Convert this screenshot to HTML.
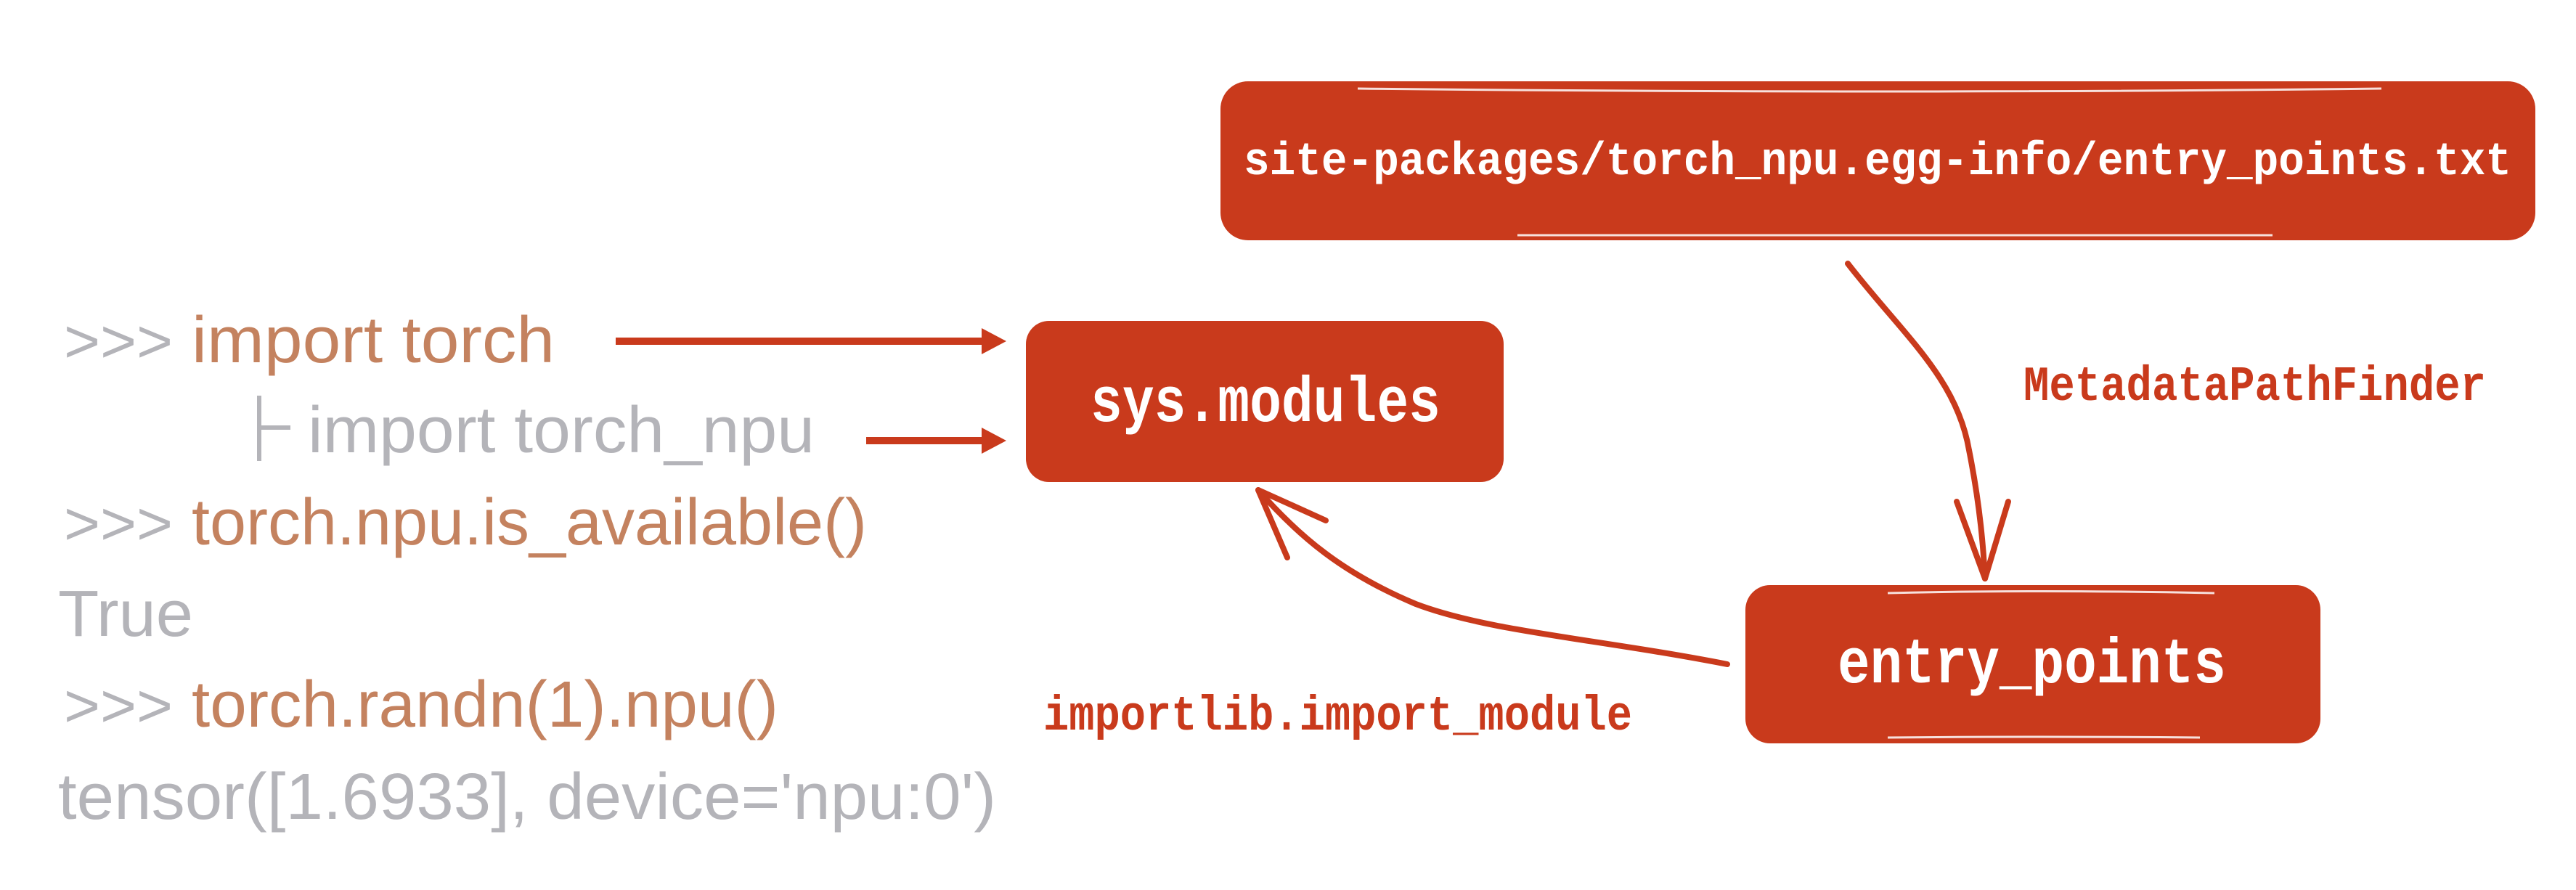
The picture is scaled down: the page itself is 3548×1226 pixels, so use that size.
<!DOCTYPE html>
<html><head><meta charset="utf-8"><style>
html,body{margin:0;padding:0;background:#fff;}
svg{display:block;}
.p{fill:#b4b4b9;font-family:"Liberation Sans",sans-serif;}
.o{fill:#c4825f;font-family:"Liberation Sans",sans-serif;}
.m{font-family:"Liberation Mono",monospace;font-weight:bold;}
</style></head><body>
<svg width="3548" height="1226" viewBox="0 0 3548 1226" xmlns="http://www.w3.org/2000/svg">
<rect width="3548" height="1226" fill="#fff"/>
<g font-size="90">
<text class="p" x="88" y="499" textLength="150" lengthAdjust="spacingAndGlyphs" font-size="84">&gt;&gt;&gt;</text>
<text class="o" x="264" y="499" textLength="500" lengthAdjust="spacingAndGlyphs">import torch</text>
<rect x="354" y="545" width="6" height="90" fill="#b4b4b9"/>
<rect x="354" y="586" width="46" height="6" fill="#b4b4b9"/>
<text class="p" x="424" y="623" textLength="698" lengthAdjust="spacingAndGlyphs">import torch_npu</text>
<text class="p" x="88" y="750" textLength="150" lengthAdjust="spacingAndGlyphs" font-size="84">&gt;&gt;&gt;</text>
<text class="o" x="264" y="750" textLength="930" lengthAdjust="spacingAndGlyphs">torch.npu.is_available()</text>
<text class="p" x="80" y="876" textLength="186" lengthAdjust="spacingAndGlyphs">True</text>
<text class="p" x="88" y="1001" textLength="150" lengthAdjust="spacingAndGlyphs" font-size="84">&gt;&gt;&gt;</text>
<text class="o" x="264" y="1001" textLength="808" lengthAdjust="spacingAndGlyphs">torch.randn(1).npu()</text>
<text class="p" x="80" y="1128" textLength="1292" lengthAdjust="spacingAndGlyphs">tensor([1.6933], device='npu:0')</text>
</g>
<g fill="#c93a1c">
<rect x="848" y="465" width="510" height="10"/>
<polygon points="1352,452 1386,470 1352,488"/>
<rect x="1193" y="602" width="165" height="10"/>
<polygon points="1352,589 1386,607 1352,625"/>
</g>
<g fill="#c93a1c">
<rect x="1681" y="112" width="1811" height="219" rx="38"/>
<rect x="1413" y="442" width="658" height="222" rx="32"/>
<rect x="2404" y="806" width="792" height="218" rx="34"/>
</g>
<g stroke="#fff" stroke-width="3" fill="none" opacity="0.85">
<path d="M1870 122 Q2600 130 3280 122"/>
<path d="M2090 324 Q2700 322 3130 324"/>
<path d="M2600 817 Q2800 812 3050 817"/>
<path d="M2600 1016 Q2800 1014 3030 1016"/>
</g>
<text class="m" x="1713" y="240" font-size="64" fill="#fff" textLength="1746" lengthAdjust="spacingAndGlyphs">site-packages/torch_npu.egg-info/entry_points.txt</text>
<text class="m" x="1502" y="580" font-size="88" fill="#fff" textLength="482" lengthAdjust="spacingAndGlyphs">sys.modules</text>
<text class="m" x="2531" y="940" font-size="88" fill="#fff" textLength="535" lengthAdjust="spacingAndGlyphs">entry_points</text>
<text class="m" x="2787" y="551" font-size="68" fill="#c93a1c" textLength="637" lengthAdjust="spacingAndGlyphs">MetadataPathFinder</text>
<text class="m" x="1437" y="1005" font-size="68" fill="#c93a1c" textLength="811" lengthAdjust="spacingAndGlyphs">importlib.import_module</text>
<g stroke="#c93a1c" stroke-width="8" fill="none" stroke-linecap="round" stroke-linejoin="round">
<path d="M2545 363 C2620 460 2695 520 2712 620 C2728 700 2732 760 2734 797"/>
<path d="M2695 691 L2734 797 L2766 691"/>
<path d="M2379 915 C2200 880 2050 870 1950 832 C1850 790 1790 740 1733 675"/>
<path d="M1773 768 L1733 675 L1826 717"/>
</g>
</svg>
</body></html>
